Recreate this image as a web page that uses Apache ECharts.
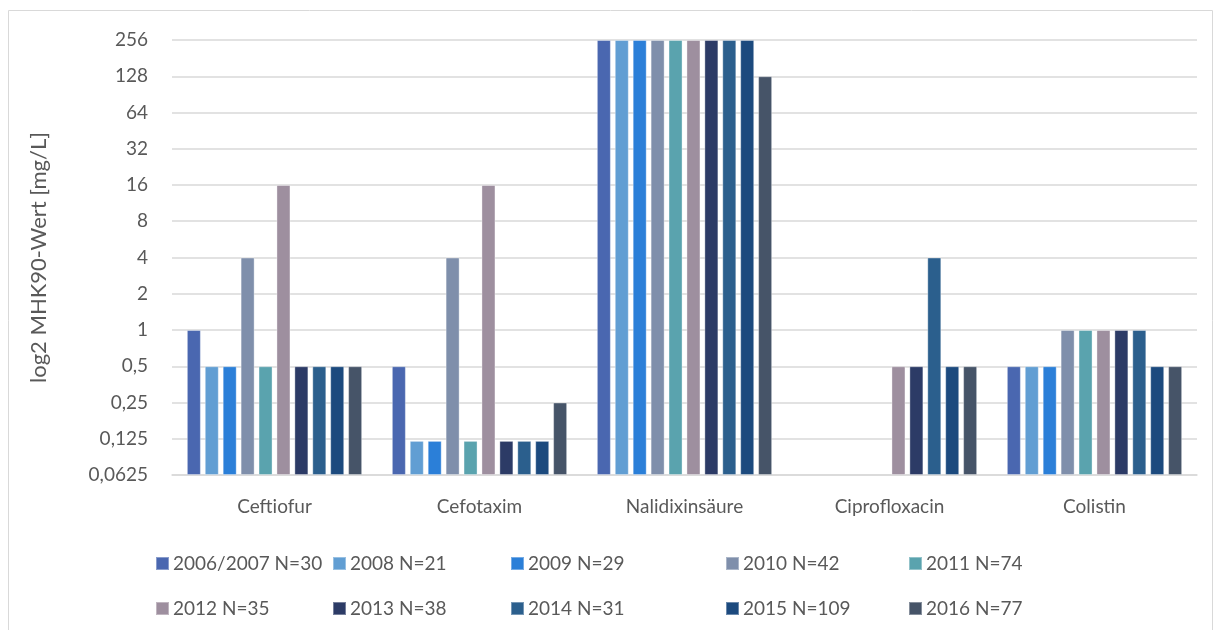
<!DOCTYPE html>
<html>
<head>
<meta charset="utf-8">
<script src="https://cdn.jsdelivr.net/npm/echarts@6/dist/echarts.min.js"></script>
<style>
  html, body { margin: 0; padding: 0; background: #fff; }
  #chart { width: 1222px; height: 630px; }
</style>
</head>
<body>
<div id="chart"></div>
<script>
// categories (antibiotics)
const categories = ['Ceftiofur', 'Cefotaxim', 'Nalidixinsäure', 'Ciprofloxacin', 'Colistin'];

// series names (year + sample size)
const seriesNames = [
  '2006/2007 N=30', '2008 N=21', '2009 N=29', '2010 N=42', '2011 N=74',
  '2012 N=35', '2013 N=38', '2014 N=31', '2015 N=109', '2016 N=77'
];

const colors = [
  '#4a67b0', '#619ed3', '#2b7fd8', '#7f8fab', '#5aa3ae',
  '#9e8f9f', '#2c3b66', '#2b5f8d', '#1c4a7e', '#465468'
];

// MHK90 values per year, in category order
const v2006 = [1, 0.5, 256, null, 0.5];
const v2008 = [0.5, 0.12, 256, null, 0.5];
const v2009 = [0.5, 0.12, 256, null, 0.5];
const v2010 = [4, 4, 256, null, 1];
const v2011 = [0.5, 0.12, 256, null, 1];
const v2012 = [16, 16, 256, 0.5, 1];
const v2013 = [0.5, 0.12, 256, 0.5, 1];
const v2014 = [0.5, 0.12, 256, 4, 1];
const v2015 = [0.5, 0.12, 256, 0.5, 0.5];
const v2016 = [0.5, 0.25, 128, 0.5, 0.5];

const seriesValues = [v2006, v2008, v2009, v2010, v2011, v2012, v2013, v2014, v2015, v2016];

const fontFamily = 'Lato, "Open Sans", sans-serif';
const textColor = '#595959';

// legend positions (two rows of five)
const legendLeft = [150, 327, 505, 720, 903];
const legendTop = [549, 594];

const chart = echarts.init(document.getElementById('chart'));

const legends = seriesNames.map((name, i) => ({
  data: [name],
  left: legendLeft[i % 5],
  top: legendTop[Math.floor(i / 5)],
  icon: 'rect',
  itemWidth: 13,
  itemHeight: 13,
  itemGap: 0,
  selectedMode: false,
  textStyle: { fontFamily, fontSize: 19, color: textColor, padding: [0, 0, 0, -1] }
}));

chart.setOption({
  color: colors,
  animation: false,
  graphic: [{
    type: 'rect',
    shape: { x: 8.5, y: 10.5, width: 1204, height: 640 },
    style: { fill: 'none', stroke: '#d9d9d9', lineWidth: 1 },
    silent: true
  }],
  legend: legends,
  grid: { left: 172, right: 25, top: 40, bottom: 155 },
  xAxis: {
    type: 'category',
    data: categories,
    axisTick: { show: false },
    axisLine: { lineStyle: { color: '#d9d9d9', width: 1.5 } },
    axisLabel: { fontFamily, fontSize: 19, color: textColor, margin: 22 }
  },
  yAxis: {
    type: 'log',
    logBase: 2,
    min: 0.0625,
    max: 256,
    interval: 1,
    startValue: 0.0625,
    name: 'log2 MHK90-Wert [mg/L]',
    nameLocation: 'middle',
    nameGap: 122,
    nameRotate: 90,
    nameTextStyle: { fontFamily, fontSize: 22, color: textColor },
    axisLine: { show: false },
    axisTick: { show: false },
    splitLine: { lineStyle: { color: '#d9d9d9', width: 1.5 } },
    axisLabel: {
      fontFamily, fontSize: 19, color: textColor, margin: 24,
      formatter: v => String(+v.toPrecision(6)).replace('.', ',')
    }
  },
  series: seriesNames.map((name, i) => ({
    name,
    type: 'bar',
    data: seriesValues[i],
    barWidth: 14,
    barGap: '28%',
    itemStyle: { color: colors[i], borderColor: 'rgba(255,255,255,0.35)', borderWidth: 1 }
  }))
});
</script>
</body>
</html>
